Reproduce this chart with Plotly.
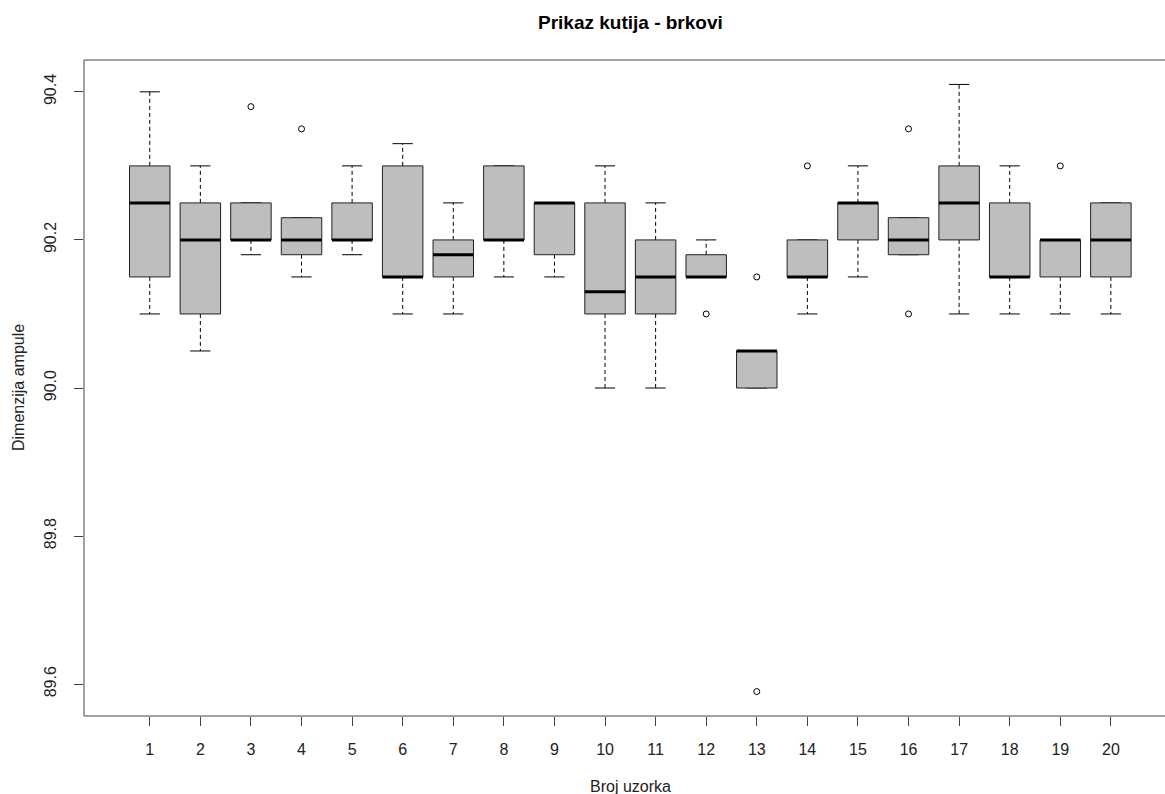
import plotly.graph_objects as go

# ---- data ----
samples = list(range(1, 21))
lower_whisker = [90.10, 90.05, 90.18, 90.15, 90.18, 90.10, 90.10, 90.15, 90.15, 90.00,
                 90.00, 90.15, 90.00, 90.10, 90.15, 90.18, 90.10, 90.10, 90.10, 90.10]
q1 = [90.15, 90.10, 90.20, 90.18, 90.20, 90.15, 90.15, 90.20, 90.18, 90.10,
      90.10, 90.15, 90.00, 90.15, 90.20, 90.18, 90.20, 90.15, 90.15, 90.15]
median = [90.25, 90.20, 90.20, 90.20, 90.20, 90.15, 90.18, 90.20, 90.25, 90.13,
          90.15, 90.15, 90.05, 90.15, 90.25, 90.20, 90.25, 90.15, 90.20, 90.20]
q3 = [90.30, 90.25, 90.25, 90.23, 90.25, 90.30, 90.20, 90.30, 90.25, 90.25,
      90.20, 90.18, 90.05, 90.20, 90.25, 90.23, 90.30, 90.25, 90.20, 90.25]
upper_whisker = [90.40, 90.30, 90.25, 90.23, 90.30, 90.33, 90.25, 90.30, 90.25, 90.30,
                 90.25, 90.20, 90.05, 90.20, 90.30, 90.23, 90.41, 90.30, 90.20, 90.25]
outlier_sample = [3, 4, 12, 13, 13, 14, 16, 16, 19]
outlier_value = [90.38, 90.35, 90.10, 90.15, 89.59, 90.30, 90.35, 90.10, 90.30]

y_ticks = [89.6, 89.8, 90.0, 90.2, 90.4]
y_tick_labels = ["89.6", "89.8", "90.0", "90.2", "90.4"]

title = "Prikaz kutija - brkovi"
x_title = "Broj uzorka"
y_title = "Dimenzija ampule"

# ---- styling ----
BOX_HALF = 0.4
STAPLE_HALF = 0.2
FILL = "#BEBEBE"
FONT = "Liberation Sans, Arial, sans-serif"

bx, by = [], []
mx, my = [], []
wx, wy = [], []
sx, sy = [], []
for s, lo, a, m, b, hi in zip(samples, lower_whisker, q1, median, q3, upper_whisker):
    bx += [s - BOX_HALF, s + BOX_HALF, s + BOX_HALF, s - BOX_HALF, s - BOX_HALF, None]
    by += [a, a, b, b, a, None]
    mx += [s - BOX_HALF, s + BOX_HALF, None]
    my += [m, m, None]
    wx += [s, s, None, s, s, None]
    wy += [b, hi, None, a, lo, None]
    sx += [s - STAPLE_HALF, s + STAPLE_HALF, None, s - STAPLE_HALF, s + STAPLE_HALF, None]
    sy += [hi, hi, None, lo, lo, None]

fig = go.Figure()
fig.add_trace(go.Scatter(x=wx, y=wy, mode="lines",
                         line=dict(color="black", width=1, dash="4px,3px"),
                         hoverinfo="skip", showlegend=False))
fig.add_trace(go.Scatter(x=sx, y=sy, mode="lines",
                         line=dict(color="black", width=1),
                         hoverinfo="skip", showlegend=False))
fig.add_trace(go.Scatter(x=bx, y=by, mode="lines", fill="toself", fillcolor=FILL,
                         line=dict(color="#222222", width=1),
                         hoverinfo="skip", showlegend=False))
fig.add_trace(go.Scatter(x=mx, y=my, mode="lines",
                         line=dict(color="black", width=3),
                         hoverinfo="skip", showlegend=False))
fig.add_trace(go.Scatter(x=outlier_sample, y=outlier_value, mode="markers",
                         marker=dict(symbol="circle-open", size=6, color="black",
                                     line=dict(width=1, color="black")),
                         hoverinfo="skip", showlegend=False))

W, H = 1165, 794
L, R, T, B = 84, 0, 60, 78
pw = W - L - R
ph = H - T - B
TICKFONT = dict(size=16, family=FONT, color="#222222")

fig.update_layout(
    width=W, height=H,
    margin=dict(l=L, r=R, t=T, b=B),
    paper_bgcolor="white", plot_bgcolor="white",
    font=dict(family=FONT, size=16, color="#222222"),
    xaxis=dict(range=[-0.3, 21.07], tickvals=samples, ticktext=[str(s) for s in samples],
               ticks="outside", ticklen=9, tickcolor="#444444", tickwidth=1,
               showgrid=False, zeroline=False, showline=False,
               ticklabelstandoff=10, tickfont=TICKFONT),
    yaxis=dict(range=[89.557, 90.443], tickvals=y_ticks, ticktext=y_tick_labels,
               ticks="outside", ticklen=9, tickcolor="#444444", tickwidth=1,
               tickangle=-90, showgrid=False, zeroline=False, showline=False,
               ticklabelstandoff=12, tickfont=TICKFONT),
    shapes=[
        dict(type="line", xref="paper", yref="paper", x0=0, x1=0, y0=0, y1=1,
             line=dict(color="#444444", width=1)),
        dict(type="line", xref="paper", yref="paper", x0=0, x1=1, y0=1, y1=1,
             line=dict(color="#444444", width=1)),
        dict(type="line", xref="paper", yref="paper", x0=0, x1=1, y0=0, y1=0,
             line=dict(color="#444444", width=1)),
    ],
    annotations=[
        dict(text="<b>" + title + "</b>", xref="paper", yref="paper",
             x=(630.5 - L) / pw, y=1 + (T - 22) / ph, xanchor="center", yanchor="middle",
             showarrow=False, font=dict(size=19, family=FONT, color="black")),
        dict(text=x_title, xref="paper", yref="paper",
             x=(630.5 - L) / pw, y=-(786 - (H - B)) / ph, xanchor="center", yanchor="middle",
             showarrow=False, font=dict(size=16, family=FONT, color="#222222")),
        dict(text=y_title, xref="paper", yref="paper", textangle=-90,
             x=(18 - L) / pw, y=0.5, xanchor="center", yanchor="middle",
             showarrow=False, font=dict(size=16, family=FONT, color="#222222")),
    ],
)

fig.write_html("out.html", config={"displayModeBar": False},
               post_script="document.body.style.margin='0';document.body.style.overflow='hidden';")
